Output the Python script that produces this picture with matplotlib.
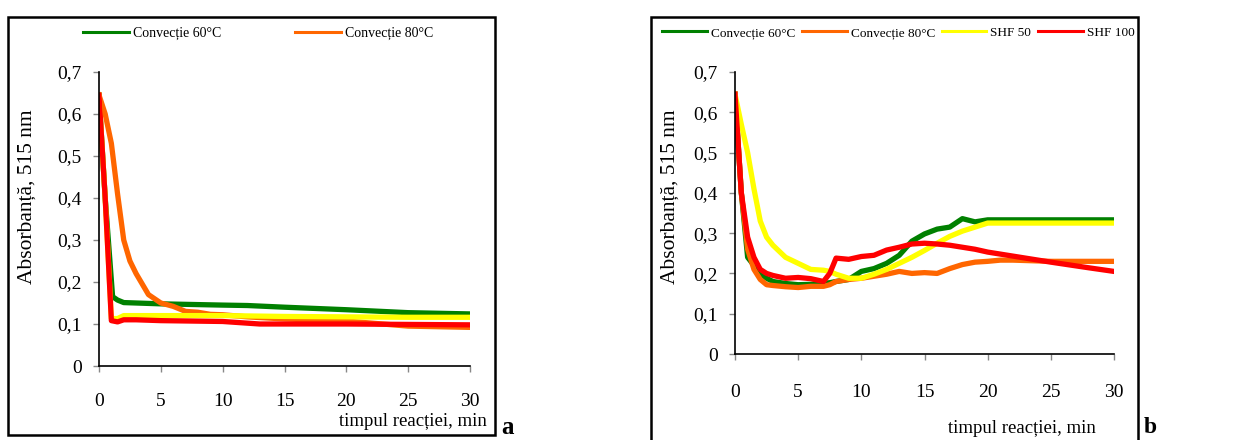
import matplotlib
matplotlib.use("Agg")
import matplotlib.pyplot as plt
from matplotlib.patches import Rectangle
from matplotlib.ticker import FuncFormatter

plt.rcParams['font.family'] = ['Liberation Serif', 'DejaVu Serif']

# panel a
a_t_green = [0, 0.5, 1.1, 1.5, 2, 3, 5, 10, 12, 15, 20, 25, 30]
a_green = [0.645, 0.4, 0.165, 0.157, 0.151, 0.15, 0.148, 0.145, 0.144, 0.14, 0.134, 0.127, 0.124]
a_t_orange = [0, 0.5, 1, 1.5, 2, 2.5, 3, 4, 5, 6, 7, 8, 9, 10, 12, 15, 20, 25, 30]
a_orange = [0.645, 0.6, 0.53, 0.41, 0.3, 0.25, 0.22, 0.17, 0.15, 0.142, 0.13, 0.128, 0.123, 0.122, 0.117, 0.112, 0.107, 0.095, 0.092]
a_t_yellow = [0, 0.5, 1, 1.5, 2, 5, 10, 15, 20, 25, 30]
a_yellow = [0.645, 0.4, 0.113, 0.113, 0.12, 0.12, 0.12, 0.118, 0.117, 0.116, 0.116]
a_t_red = [0, 0.5, 1, 1.5, 2, 3, 5, 10, 13, 15, 20, 25, 30]
a_red = [0.645, 0.4, 0.108, 0.105, 0.11, 0.11, 0.108, 0.106, 0.1, 0.1, 0.1, 0.099, 0.098]

# panel b
b_t = [0, 0.5, 1, 1.5, 2, 2.5, 3, 4, 5, 6, 7, 7.5, 8, 9, 10, 11, 12, 13, 14, 15, 16, 17, 18, 19, 20, 21, 22, 25, 28, 30]
b_green = [0.645, 0.4, 0.24, 0.22, 0.2, 0.188, 0.18, 0.175, 0.172, 0.173, 0.175, 0.177, 0.18, 0.185, 0.205, 0.212, 0.225, 0.245, 0.28, 0.298, 0.31, 0.315, 0.336, 0.328, 0.333, 0.333, 0.333, 0.333, 0.333, 0.333]
b_orange = [0.645, 0.4, 0.26, 0.21, 0.185, 0.172, 0.17, 0.167, 0.165, 0.168, 0.168, 0.172, 0.18, 0.185, 0.188, 0.193, 0.198, 0.205, 0.2, 0.202, 0.2, 0.212, 0.222, 0.228, 0.23, 0.233, 0.233, 0.23, 0.23, 0.23]
b_yellow = [0.645, 0.57, 0.5, 0.41, 0.33, 0.29, 0.27, 0.24, 0.225, 0.21, 0.208, 0.205, 0.198, 0.188, 0.188, 0.198, 0.21, 0.225, 0.24, 0.257, 0.275, 0.292, 0.305, 0.315, 0.325, 0.325, 0.325, 0.325, 0.325, 0.325]
b_red = [0.645, 0.4, 0.29, 0.24, 0.21, 0.2, 0.195, 0.188, 0.19, 0.187, 0.18, 0.2, 0.238, 0.235, 0.242, 0.245, 0.258, 0.265, 0.273, 0.275, 0.273, 0.27, 0.265, 0.26, 0.253, 0.248, 0.243, 0.228, 0.214, 0.205]

names = ['Convecție 60°C', 'Convecție 80°C', 'SHF 50', 'SHF 100']
colors = ['#008000', '#FF6600', '#FFFF00', '#FF0000']

fig = plt.figure(figsize=(12.35, 4.4), dpi=100)

# frames around each panel
fig.add_artist(Rectangle((8 / 1235, 5 / 440), 487 / 1235, 418 / 440, transform=fig.transFigure,
                         fill=False, edgecolor='black', linewidth=1.8))
fig.add_artist(Rectangle((651 / 1235, -0.05), 487 / 1235, (423 + 22) / 440, transform=fig.transFigure,
                         fill=False, edgecolor='black', linewidth=1.8))

ax1 = fig.add_axes([99 / 1235, 74 / 440, 371 / 1235, 294 / 440])
ax2 = fig.add_axes([735 / 1235, 86 / 440, 379 / 1235, 282 / 440])

lw = 3.8
ax1.plot(a_t_green, a_green, color=colors[0], lw=lw, label=names[0])
ax1.plot(a_t_orange, a_orange, color=colors[1], lw=lw, label=names[1])
ax1.plot(a_t_yellow, a_yellow, color=colors[2], lw=lw)
ax1.plot(a_t_red, a_red, color=colors[3], lw=lw)

for ys, c, n in zip([b_green, b_orange, b_yellow, b_red], colors, names):
    ax2.plot(b_t, ys, color=c, lw=lw, label=n)

fmt = FuncFormatter(lambda v, p: ('%g' % round(v, 2)).replace('.', ','))
for ax in (ax1, ax2):
    ax.set_xlim(0, 30)
    ax.set_ylim(0, 0.7)
    ax.set_xticks(range(0, 31, 5))
    ax.set_yticks([i / 10 for i in range(8)])
    ax.yaxis.set_major_formatter(fmt)
    ax.spines['top'].set_visible(False)
    ax.spines['right'].set_visible(False)
    ax.spines['left'].set_linewidth(1.2)
    ax.spines['bottom'].set_linewidth(1.2)
    ax.tick_params(axis='both', direction='out', length=4.5, width=1, color='#888888', labelsize=14)
    ax.tick_params(axis='y', pad=8)

ax1.tick_params(axis='x', pad=15)
ax2.tick_params(axis='x', pad=17)

# axis titles
fig.text(27 / 1235, 1 - 197 / 440, 'Absorbanță, 515 nm', fontsize=15.5, rotation=90, ha='center', va='center')
fig.text(670 / 1235, 1 - 197 / 440, 'Absorbanță, 515 nm', fontsize=15.5, rotation=90, ha='center', va='center')
fig.text(487 / 1235, 1 - 421 / 440, 'timpul reacției, min', fontsize=13.5, ha='right', va='center')
fig.text(1022 / 1235, 1 - 428 / 440, 'timpul reacției, min', fontsize=13.5, ha='center', va='center')
fig.text(508 / 1235, 1 - 427 / 440, 'a', fontsize=18, fontweight='bold', ha='center', va='center')
fig.text(1150 / 1235, 1 - 427 / 440, 'b', fontsize=17, fontweight='bold', ha='center', va='center')

h1, l1 = ax1.get_legend_handles_labels()
leg1 = fig.legend(h1, l1, loc='center left', bbox_to_anchor=(83 / 1235, 1 - 33 / 440), ncol=2,
                  frameon=False, fontsize=10, handlelength=3.3, handletextpad=0.3,
                  columnspacing=5.3, borderpad=0, borderaxespad=0)
for ln in leg1.get_lines():
    ln.set_linewidth(2.2)

h2, l2 = ax2.get_legend_handles_labels()
leg2 = fig.legend(h2, l2, loc='center left', bbox_to_anchor=(662 / 1235, 1 - 33 / 440), ncol=4,
                  frameon=False, fontsize=9.5, handlelength=3.4, handletextpad=0.3,
                  columnspacing=0.5, borderpad=0, borderaxespad=0)
for ln in leg2.get_lines():
    ln.set_linewidth(2.2)

fig.savefig('out.png', dpi=100)
